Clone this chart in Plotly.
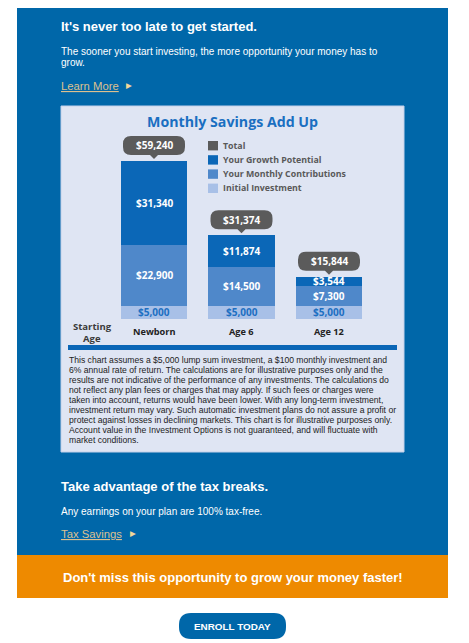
import plotly.graph_objects as go

# ---------------- data ----------------
categories = ["Newborn", "Age 6", "Age 12"]
initial_investment = [5000, 5000, 5000]
monthly_contributions = [22900, 14500, 7300]
growth_potential = [31340, 11874, 3544]
totals = [59240, 31374, 15844]
legend_names = ["Total", "Your Growth Potential", "Your Monthly Contributions", "Initial Investment"]

disclaimer_lines = [
    "This chart assumes a $5,000 lump sum investment, a $100 monthly investment and",
    "6% annual rate of return. The calculations are for illustrative purposes only and the",
    "results are not indicative of the performance of any investments. The calculations do",
    "not reflect any plan fees or charges that may apply. If such fees or charges were",
    "taken into account, returns would have been lower. With any long-term investment,",
    "investment return may vary. Such automatic investment plans do not assure a profit or",
    "protect against losses in declining markets. This chart is for illustrative purposes only.",
    "Account value in the Investment Options is not guaranteed, and will fluctuate with",
    "market conditions.",
]

# ---------------- style ----------------
W, H = 469, 643
OFF = 8  # page body margin
BLUE = "#0067a9"
LIGHT = "#dfe5f3"
C_TOTAL = "#5b5b5b"
C_GROWTH = "#0b67b7"
C_MONTHLY = "#4f88ca"
C_INITIAL = "#a8c0e7"
TEXT_BLUE = "#1d6fc2"
CHART_FONT = "Open Sans"
MAIL_FONT = "Liberation Sans"


def px(x):
    return (x - OFF) / W


def py(y):
    return 1 - (y - OFF) / H


def money(v):
    return "${:,}".format(v)


fig = go.Figure()

series = [
    ("Initial Investment", initial_investment, C_INITIAL),
    ("Your Monthly Contributions", monthly_contributions, C_MONTHLY),
    ("Your Growth Potential", growth_potential, C_GROWTH),
]
for name, vals, col in series:
    fig.add_trace(go.Bar(
        x=categories, y=vals, name=name, marker=dict(color=col, line=dict(width=0)),
        showlegend=False, hoverinfo="skip"))

shapes = []
annotations = []

# background panels
shapes.append(dict(type="rect", xref="paper", yref="paper", x0=px(17), x1=px(448), y0=py(555), y1=py(3),
                   fillcolor=BLUE, line=dict(width=0), layer="below"))
shapes.append(dict(type="rect", xref="paper", yref="paper", x0=px(61), x1=px(404), y0=py(452), y1=py(106),
                   fillcolor=LIGHT, line=dict(color="#c3d1ea", width=1), layer="below"))
shapes.append(dict(type="rect", xref="paper", yref="paper", x0=px(68), x1=px(397), y0=py(350), y1=py(345),
                   fillcolor="#0a66b6", line=dict(width=0), layer="below"))
shapes.append(dict(type="rect", xref="paper", yref="paper", x0=px(17), x1=px(448), y0=py(598), y1=py(555),
                   fillcolor="#ee8a00", line=dict(width=0), layer="below"))
# enroll button (pill)
bx0, bx1, by0, by1, r = 179, 286, 613, 639, 12
path = (f"M {px(bx0 + r)},{py(by0)} L {px(bx1 - r)},{py(by0)} "
        f"Q {px(bx1)},{py(by0)} {px(bx1)},{py(by0 + r)} L {px(bx1)},{py(by1 - r)} "
        f"Q {px(bx1)},{py(by1)} {px(bx1 - r)},{py(by1)} L {px(bx0 + r)},{py(by1)} "
        f"Q {px(bx0)},{py(by1)} {px(bx0)},{py(by1 - r)} L {px(bx0)},{py(by0 + r)} "
        f"Q {px(bx0)},{py(by0)} {px(bx0 + r)},{py(by0)} Z")
shapes.append(dict(type="path", xref="paper", yref="paper", path=path, fillcolor=BLUE,
                   line=dict(width=0), layer="below"))

# callout bubbles above each bar (pixel-sized, anchored on totals)
hw, b0, b1, rr = 31, 6, 25, 8
bubble = (f"M {-hw + rr},{b0} L -4,{b0} L 0,2 L 4,{b0} L {hw - rr},{b0} "
          f"Q {hw},{b0} {hw},{b0 + rr} L {hw},{b1 - rr} Q {hw},{b1} {hw - rr},{b1} "
          f"L {-hw + rr},{b1} Q {-hw},{b1} {-hw},{b1 - rr} L {-hw},{b0 + rr} "
          f"Q {-hw},{b0} {-hw + rr},{b0} Z")
for c, t in zip(categories, totals):
    shapes.append(dict(type="path", xref="x", yref="y", xsizemode="pixel", ysizemode="pixel",
                       xanchor=c, yanchor=t, path=bubble, fillcolor=C_TOTAL, line=dict(width=0)))
    annotations.append(dict(x=c, y=t, xref="x", yref="y", yshift=15.5, text="<b>" + money(t) + "</b>",
                            showarrow=False, font=dict(family=CHART_FONT, size=10, color="white"),
                            yanchor="middle"))

# segment labels
for i, c in enumerate(categories):
    a = initial_investment[i]
    b = monthly_contributions[i]
    g = growth_potential[i]
    for val, mid, col in [(a, a / 2, TEXT_BLUE), (b, a + b / 2, "white"), (g, a + b + g / 2, "white")]:
        annotations.append(dict(x=c, y=mid, xref="x", yref="y", text="<b>" + money(val) + "</b>",
                                showarrow=False, yanchor="middle",
                                font=dict(family=CHART_FONT, size=10, color=col)))
    annotations.append(dict(x=c, y=0, xref="x", yref="y", yshift=-13, text="<b>" + c + "</b>",
                            showarrow=False, yanchor="middle",
                            font=dict(family=CHART_FONT, size=9.2, color="#222222")))

for k, s in enumerate(["Starting", "Age"]):
    annotations.append(dict(x=px(92), y=py(326 + 12 * k), xref="paper", yref="paper", text="<b>" + s + "</b>",
                            showarrow=False, font=dict(family=CHART_FONT, size=9.5, color="#3a3a3a"),
                            xanchor="center", yanchor="middle"))

# chart title
annotations.append(dict(x=px(232), y=py(122), xref="paper", yref="paper", text="<b>Monthly Savings Add Up</b>",
                        showarrow=False, font=dict(family=CHART_FONT, size=14.2, color="#1a6fc1"),
                        xanchor="center", yanchor="middle"))

# legend (manual)
leg_colors = [C_TOTAL, C_GROWTH, C_MONTHLY, C_INITIAL]
for k, (nm, col) in enumerate(zip(legend_names, leg_colors)):
    yc = 145.7 + k * 14.2
    shapes.append(dict(type="rect", xref="paper", yref="paper", x0=px(208), x1=px(218),
                       y0=py(yc + 4.7), y1=py(yc - 4.7), fillcolor=col, line=dict(width=0)))
    annotations.append(dict(x=px(220.5), y=py(yc), xref="paper", yref="paper", text="<b>" + nm + "</b>",
                            showarrow=False, xanchor="left", yanchor="middle",
                            font=dict(family=CHART_FONT, size=8.8, color="#595959")))

# disclaimer, one line at a time
for k, line in enumerate(disclaimer_lines):
    annotations.append(dict(x=px(67), y=py(360 + 10 * k), xref="paper", yref="paper", text=line,
                            showarrow=False, xanchor="left", yanchor="middle",
                            font=dict(family=MAIL_FONT, size=8.6, color="#222222")))


# email texts
def txt(x, y, s, size, color="white", anchor="left", family=MAIL_FONT):
    annotations.append(dict(x=px(x), y=py(y), xref="paper", yref="paper", text=s, showarrow=False,
                            xanchor=anchor, yanchor="middle", align="left",
                            font=dict(family=family, size=size, color=color)))


TAN = "#dcc08f"
txt(59, 26, "<b>It's never too late to get started.</b>", 13)
txt(59, 51, "The sooner you start investing, the more opportunity your money has to", 10)
txt(59, 62, "grow.", 10)
txt(59, 86, "<u>Learn More</u>", 11.3, TAN)
txt(124, 85.5, "▶", 7.5, "#f3d79a", family="DejaVu Sans")
txt(59, 486, "<b>Take advantage of the tax breaks.</b>", 13)
txt(59, 511, "Any earnings on your plan are 100% tax-free.", 10)
txt(59, 534, "<u>Tax Savings</u>", 11.3, TAN)
txt(128, 533.5, "▶", 7.5, "#f3d79a", family="DejaVu Sans")
txt(232.5, 577, "<b>Don't miss this opportunity to grow your money faster!</b>", 13, anchor="center")
txt(232.5, 626, "<b>ENROLL TODAY</b>", 9.9, anchor="center")

# axes positioning: categories spaced 87.5px apart, bar baseline at y=319
fig.update_layout(
    width=W, height=H, margin=dict(l=0, r=0, t=0, b=0),
    paper_bgcolor="white", plot_bgcolor="rgba(0,0,0,0)",
    barmode="stack", bargap=0.245,
    xaxis=dict(domain=[px(110.25), px(372.75)], range=[-0.5, 2.5], visible=False, fixedrange=True),
    yaxis=dict(domain=[py(319), py(136)], range=[0, 59240 * 183 / 158], visible=False, fixedrange=True),
    shapes=shapes, annotations=annotations, showlegend=False,
)

fig.write_html("out.html")
